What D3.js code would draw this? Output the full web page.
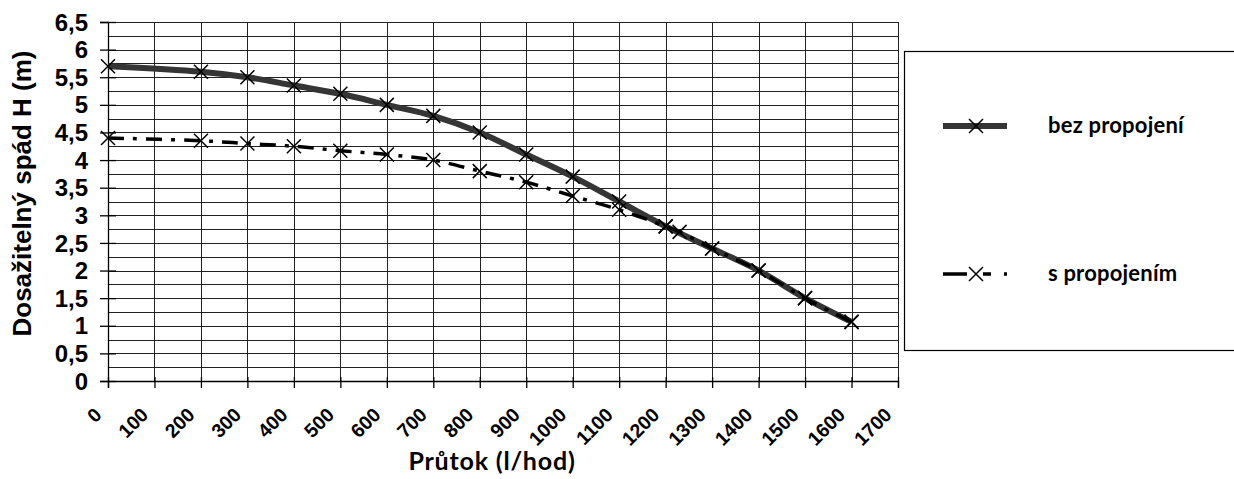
<!DOCTYPE html>
<html>
<head>
<meta charset="utf-8">
<script src="https://cdn.jsdelivr.net/npm/d3@7"></script>
<style>
  body { margin: 0; background: #fff; }
  .tickY { font-family: "Liberation Sans", Arial, sans-serif; font-weight: bold; font-size: 24px; }
  .tickX { font-family: "Liberation Sans", Arial, sans-serif; font-weight: bold; font-size: 19.5px; }
  .titleY { font-family: "Liberation Sans", Arial, sans-serif; font-weight: bold; font-size: 26px; }
  .titleX { font-family: Lato, "Open Sans", sans-serif; font-weight: bold; font-size: 25px; letter-spacing: 0.8px; }
  .legendText { font-family: Lato, "Open Sans", sans-serif; font-weight: bold; font-size: 22px; letter-spacing: 0.2px; }
</style>
</head>
<body>
<div class="chart"></div>
<script>
// data
var flowA = [0, 200, 300, 400, 500, 600, 700, 800, 900, 1000, 1100, 1200, 1300, 1400, 1500, 1600];
var headA = [5.7, 5.6, 5.5, 5.35, 5.2, 5.0, 4.8, 4.5, 4.1, 3.7, 3.25, 2.8, 2.4, 2.0, 1.5, 1.07];
var flowB = [0, 200, 300, 400, 500, 600, 700, 800, 900, 1000, 1100, 1200, 1230, 1300, 1400, 1500, 1600];
var headB = [4.4, 4.35, 4.3, 4.25, 4.17, 4.1, 4.0, 3.8, 3.6, 3.35, 3.1, 2.8, 2.7, 2.4, 2.0, 1.5, 1.07];
var seriesNames = ["bez propojení", "s propojením"];
var yTicks = [0, 0.5, 1, 1.5, 2, 2.5, 3, 3.5, 4, 4.5, 5, 5.5, 6, 6.5];
var xTicks = d3.range(0, 1701, 100);

var svgWidth = 1234;
var svgHeight = 479;
var margin = { top: 22, right: 336, bottom: 98, left: 108 };
var width = svgWidth - margin.left - margin.right;
var height = svgHeight - margin.top - margin.bottom;

var svg = d3.select(".chart")
  .append("svg")
  .attr("width", svgWidth)
  .attr("height", svgHeight);

var chartGroup = svg.append("g")
  .attr("transform", `translate(${margin.left}, ${margin.top})`);

var xScale = d3.scaleLinear().domain([0, 1700]).range([0, width]);
var yScale = d3.scaleLinear().domain([0, 6.5]).range([height, 0]);

// grid: every 100 on x, every 0.25 on y
chartGroup.append("g")
  .selectAll("line")
  .data(d3.range(0, 6.51, 0.25))
  .enter()
  .append("line")
  .attr("x1", 0)
  .attr("x2", width)
  .attr("y1", d => Math.round(yScale(d)) + 0.5)
  .attr("y2", d => Math.round(yScale(d)) + 0.5)
  .attr("stroke", "#222")
  .attr("stroke-width", 1);

chartGroup.append("g")
  .selectAll("line")
  .data(xTicks)
  .enter()
  .append("line")
  .attr("x1", d => Math.round(xScale(d)) + 0.5)
  .attr("x2", d => Math.round(xScale(d)) + 0.5)
  .attr("y1", 0)
  .attr("y2", height)
  .attr("stroke", "#222")
  .attr("stroke-width", 1);

// axes with ticks crossing the axis line
var bottomAxis = d3.axisBottom(xScale).tickValues(xTicks).tickSize(7).tickFormat("");
var leftAxis = d3.axisLeft(yScale).tickValues(yTicks).tickSize(8).tickFormat("");

var xAxisG = chartGroup.append("g")
  .attr("transform", `translate(0, ${height})`)
  .call(bottomAxis);
var yAxisG = chartGroup.append("g").call(leftAxis);
[xAxisG, yAxisG].forEach(function (g) {
  g.select(".domain").attr("stroke", "#000").attr("stroke-width", 1.3);
  g.selectAll(".tick line").attr("stroke", "#000").attr("stroke-width", 1.3);
});
xAxisG.selectAll(".tick line").attr("y1", -4);
yAxisG.selectAll(".tick line").attr("x1", 8).attr("x2", -8);

// tick labels
chartGroup.append("g")
  .selectAll("text")
  .data(yTicks)
  .enter()
  .append("text")
  .attr("class", "tickY")
  .attr("x", -20)
  .attr("y", d => yScale(d))
  .attr("dy", "0.36em")
  .attr("text-anchor", "end")
  .text(d => String(d).replace(".", ","));

chartGroup.append("g")
  .selectAll("text")
  .data(xTicks)
  .enter()
  .append("text")
  .attr("class", "tickX")
  .attr("text-anchor", "end")
  .attr("transform", d => `translate(${xScale(d) - 5}, ${height + 35}) rotate(-45)`)
  .text(d => d);

// lines
var lineA = d3.line()
  .x(d => xScale(d[0]))
  .y(d => yScale(d[1]))
  .curve(d3.curveCatmullRom.alpha(0.5));

var dataA = flowA.map((f, i) => [f, headA[i]]);
var dataB = flowB.map((f, i) => [f, headB[i]]);

chartGroup.append("path")
  .datum(dataA)
  .attr("d", lineA)
  .attr("fill", "none")
  .attr("stroke", "#353535")
  .attr("stroke-width", 6);

chartGroup.append("path")
  .datum(dataB)
  .attr("d", lineA)
  .attr("fill", "none")
  .attr("stroke", "#000")
  .attr("stroke-width", 3.5)
  .attr("stroke-dasharray", "16,9,4,9");

function crossPath(s) {
  return `M${-s},${-s}L${s},${s}M${-s},${s}L${s},${-s}`;
}

[dataA, dataB].forEach(function (data) {
  chartGroup.append("g")
    .selectAll("path")
    .data(data)
    .enter()
    .append("path")
    .attr("transform", d => `translate(${xScale(d[0])}, ${yScale(d[1])})`)
    .attr("d", crossPath(7))
    .attr("fill", "none")
    .attr("stroke", "#000")
    .attr("stroke-width", 1.5);
});

// axis titles
svg.append("text")
  .attr("class", "titleY")
  .attr("transform", `translate(31, ${margin.top + height / 2 - 8}) rotate(-90)`)
  .attr("text-anchor", "middle")
  .text("Dosažitelný spád H (m)");

svg.append("text")
  .attr("class", "titleX")
  .attr("x", 492)
  .attr("y", 470)
  .attr("text-anchor", "middle")
  .text("Průtok (l/hod)");

// legend
var legend = svg.append("g");
legend.append("rect")
  .attr("x", 904.5)
  .attr("y", 51.5)
  .attr("width", 340)
  .attr("height", 299)
  .attr("fill", "#fff")
  .attr("stroke", "#000")
  .attr("stroke-width", 1.2);

var legendY = [126, 274];
seriesNames.forEach(function (name, i) {
  var y = legendY[i];
  legend.append("line")
    .attr("x1", 943).attr("x2", 1007)
    .attr("y1", y).attr("y2", y)
    .attr("stroke", i === 0 ? "#353535" : "#000")
    .attr("stroke-width", i === 0 ? 6 : 3.5)
    .attr("stroke-dasharray", i === 0 ? null : "24,16,8,13,3,10");
  legend.append("path")
    .attr("transform", `translate(976, ${y})`)
    .attr("d", crossPath(7))
    .attr("fill", "none")
    .attr("stroke", "#000")
    .attr("stroke-width", 1.5);
  legend.append("text")
    .attr("class", "legendText")
    .attr("x", 1048)
    .attr("y", y + 7)
    .text(name);
});
</script>
</body>
</html>
